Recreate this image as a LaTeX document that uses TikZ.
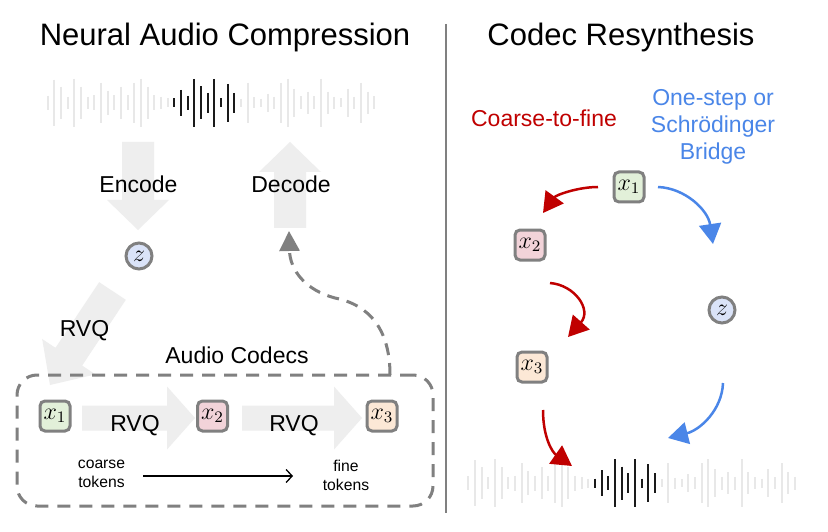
\documentclass[tikz,border=0pt]{standalone}
\usepackage{graphicx}
\usepackage{fontspec}
\setmainfont{Liberation Sans}
\usetikzlibrary{arrows.meta,calc}
\definecolor{arrfill}{HTML}{EEEEEE}
\definecolor{wavelight}{HTML}{E8E8E8}
\definecolor{wavedark}{HTML}{1A1A1A}
\definecolor{bordgray}{HTML}{808080}
\definecolor{tokgreen}{HTML}{E2F0D9}
\definecolor{tokpink}{HTML}{F2D3D9}
\definecolor{tokorange}{HTML}{FCE8D6}
\definecolor{zblue}{HTML}{DAE3F8}
\definecolor{cfred}{HTML}{C00000}
\definecolor{sbblue}{HTML}{4A86E8}

% big light-gray block arrow: start, tip, body half width, head half width, head length
\newcommand{\bigarr}[5]{%
  \coordinate (ba-S) at (#1);
  \coordinate (ba-T) at (#2);
  \coordinate (ba-H) at ($(ba-T)!#5pt!(ba-S)$);
  \fill[arrfill] ($(ba-S)!#3pt!90:(ba-T)$) -- ($(ba-H)!#3pt!90:(ba-T)$) -- ($(ba-H)!#4pt!90:(ba-T)$) -- (ba-T)
     -- ($(ba-H)!#4pt!-90:(ba-T)$) -- ($(ba-H)!#3pt!-90:(ba-T)$) -- ($(ba-S)!#3pt!-90:(ba-T)$) -- cycle;
}
% waveform: x of first bar, centre y
\newcommand{\wavebars}[2]{%
  \foreach \h [count=\k from 0] in {7,23,16,6,24,16,6,7.5,20,12,7.5,16,7.5,20,24,16,7.5,6,4.5,4.5,13,7,24,16.5,10,24,4.5,19,10,4,20,5.5,4,9,6,20,24,14,6.5,11,6.5,24,11,6,4.5,14,6,20,11,6.5}{%
    \pgfmathsetmacro\xx{#1+6.667*\k}%
    \ifnum\k>18\relax\ifnum\k<29\relax\def\wc{wavedark}\def\wl{2.2pt}\else\def\wc{wavelight}\def\wl{1.8pt}\fi\else\def\wc{wavelight}\def\wl{1.8pt}\fi
    \draw[color=\wc, line width=\wl] (\xx,#2-\h) -- (\xx,#2+\h);
  }%
}
\newcommand{\tokm}[1]{\scalebox{2.0}{$#1$}}

\tikzset{
  tok/.style={draw=bordgray, line width=3pt, rounded corners=5pt, minimum size=30pt, inner sep=0pt,
              font=\fontsize{12}{12}\selectfont},
  zc/.style={circle, draw=bordgray, fill=zblue, line width=3pt, minimum size=26pt, inner sep=0pt,
             font=\fontsize{12}{12}\selectfont},
  titletxt/.style={anchor=base, inner sep=0pt, font=\fontsize{31}{36}\selectfont},
  lbl/.style={anchor=base, inner sep=0pt, font=\fontsize{23}{27}\selectfont},
  small/.style={align=center, inner sep=0pt, anchor=north, font=\fontsize{15.7}{19}\selectfont},
  redarr/.style={draw=cfred, line width=2.5pt, -{Triangle[length=20pt,width=22pt]}},
  bluearr/.style={draw=sbblue, line width=2.5pt, -{Triangle[length=20pt,width=22pt]}},
}

\begin{document}
\begin{tikzpicture}[x=1pt,y=-1pt]
\useasboundingbox (0,0) rectangle (828,532);
\fill[white] (0,0) rectangle (828,532);

% titles
\node[titletxt] (t1) at (225,46) {Neural Audio Compression};
\node[titletxt] (t2) at (621,46) {Codec Resynthesis};

% divider
\draw[bordgray, line width=2.5pt] (446,24) -- (446,513);

% waveforms
\wavebars{47.7}{103}
\wavebars{468.3}{483}

% big block arrows (left)
\bigarr{138,142}{138,230}{16}{31}{30}
\bigarr{290,228}{290,142}{16}{31}{30}
\bigarr{112.5,291}{50,385}{16}{32}{34}
\bigarr{82,418}{195,418}{12.5}{31.5}{28}
\bigarr{242,418}{362,418}{12.5}{31.5}{28}

% labels left
\node[lbl] (enc) at (138.5,193) {Encode};
\node[lbl] (dec) at (291,193) {Decode};
\node[lbl] (rvq0) at (84.5,336) {RVQ};
\node[lbl] (ac) at (237,363) {Audio Codecs};
\node[lbl] (rvq1) at (135,431.5) {RVQ};
\node[lbl] (rvq2) at (294,431.5) {RVQ};

% codec box
\node[draw=bordgray, line width=3pt, dash pattern=on 13pt off 9pt, rounded corners=20pt,
      minimum width=416pt, minimum height=131pt, inner sep=0pt] (codecs) at (225,440.5) {};

% tokens left
\node[tok, fill=tokgreen] (x1a) at (55,416) {\tokm{x_1}};
\node[tok, fill=tokpink] (x2a) at (212.5,416) {\tokm{x_2}};
\node[tok, fill=tokorange] (x3a) at (382,416) {\tokm{x_3}};
\node[zc] (za) at (139,256) {\tokm{z}};

% coarse / fine
\node[small] (coarse) at (101.5,460) {coarse\\tokens};
\node[small] (fine) at (346,460) {fine\\tokens};
\coordinate (cfs) at (143,476);
\coordinate (cfe) at (293,476);
\draw[line width=1.3pt, -{Straight Barb[length=6pt,width=13pt,line width=1.3pt]}] (cfs) -- (cfe);

% dashed decode connector
\coordinate (dstart) at (390,375);
\coordinate (dend) at (289,231);
\draw[bordgray, line width=3pt, dash pattern=on 12pt off 8pt, -{Triangle[length=20pt,width=20pt]}]
  (dstart) .. controls (390,330) and (370,305) .. (335,298) .. controls (305,290) and (290,270) .. (dend);

% right side labels
\node[lbl, text=cfred] (ctf) at (544,127) {Coarse-to-fine};
\node[align=center, anchor=north, inner sep=0pt, text=sbblue, font=\fontsize{23}{26.7}\selectfont] (osb) at (713,89.5)
  {One-step or\\Schrödinger\\Bridge};

% right tokens
\node[tok, fill=tokgreen] (x1b) at (629,187) {\tokm{x_1}};
\node[tok, fill=tokpink] (x2b) at (530,245) {\tokm{x_2}};
\node[tok, fill=tokorange] (x3b) at (532,367) {\tokm{x_3}};
\node[zc] (zb) at (722,310) {\tokm{z}};

% right connectors
\coordinate (r1s) at (598,187);  \coordinate (r1e) at (543,213);
\coordinate (r2s) at (550,283);  \coordinate (r2e) at (568,337);
\coordinate (r3s) at (543,410);  \coordinate (r3e) at (572,466);
\coordinate (b1s) at (658,187);  \coordinate (b1e) at (713,244);
\coordinate (b2s) at (723,383);  \coordinate (b2e) at (668,438);
\draw[redarr] (r1s) .. controls (578,187) and (556,195) .. (r1e);
\draw[redarr] (r2s) .. controls (575,285) and (592,310) .. (r2e);
\draw[redarr] (r3s) .. controls (543,437) and (552,452) .. (r3e);
\draw[bluearr] (b1s) .. controls (685,188) and (708,210) .. (b1e);
\draw[bluearr] (b2s) .. controls (722,410) and (700,430) .. (b2e);
\end{tikzpicture}
\end{document}
